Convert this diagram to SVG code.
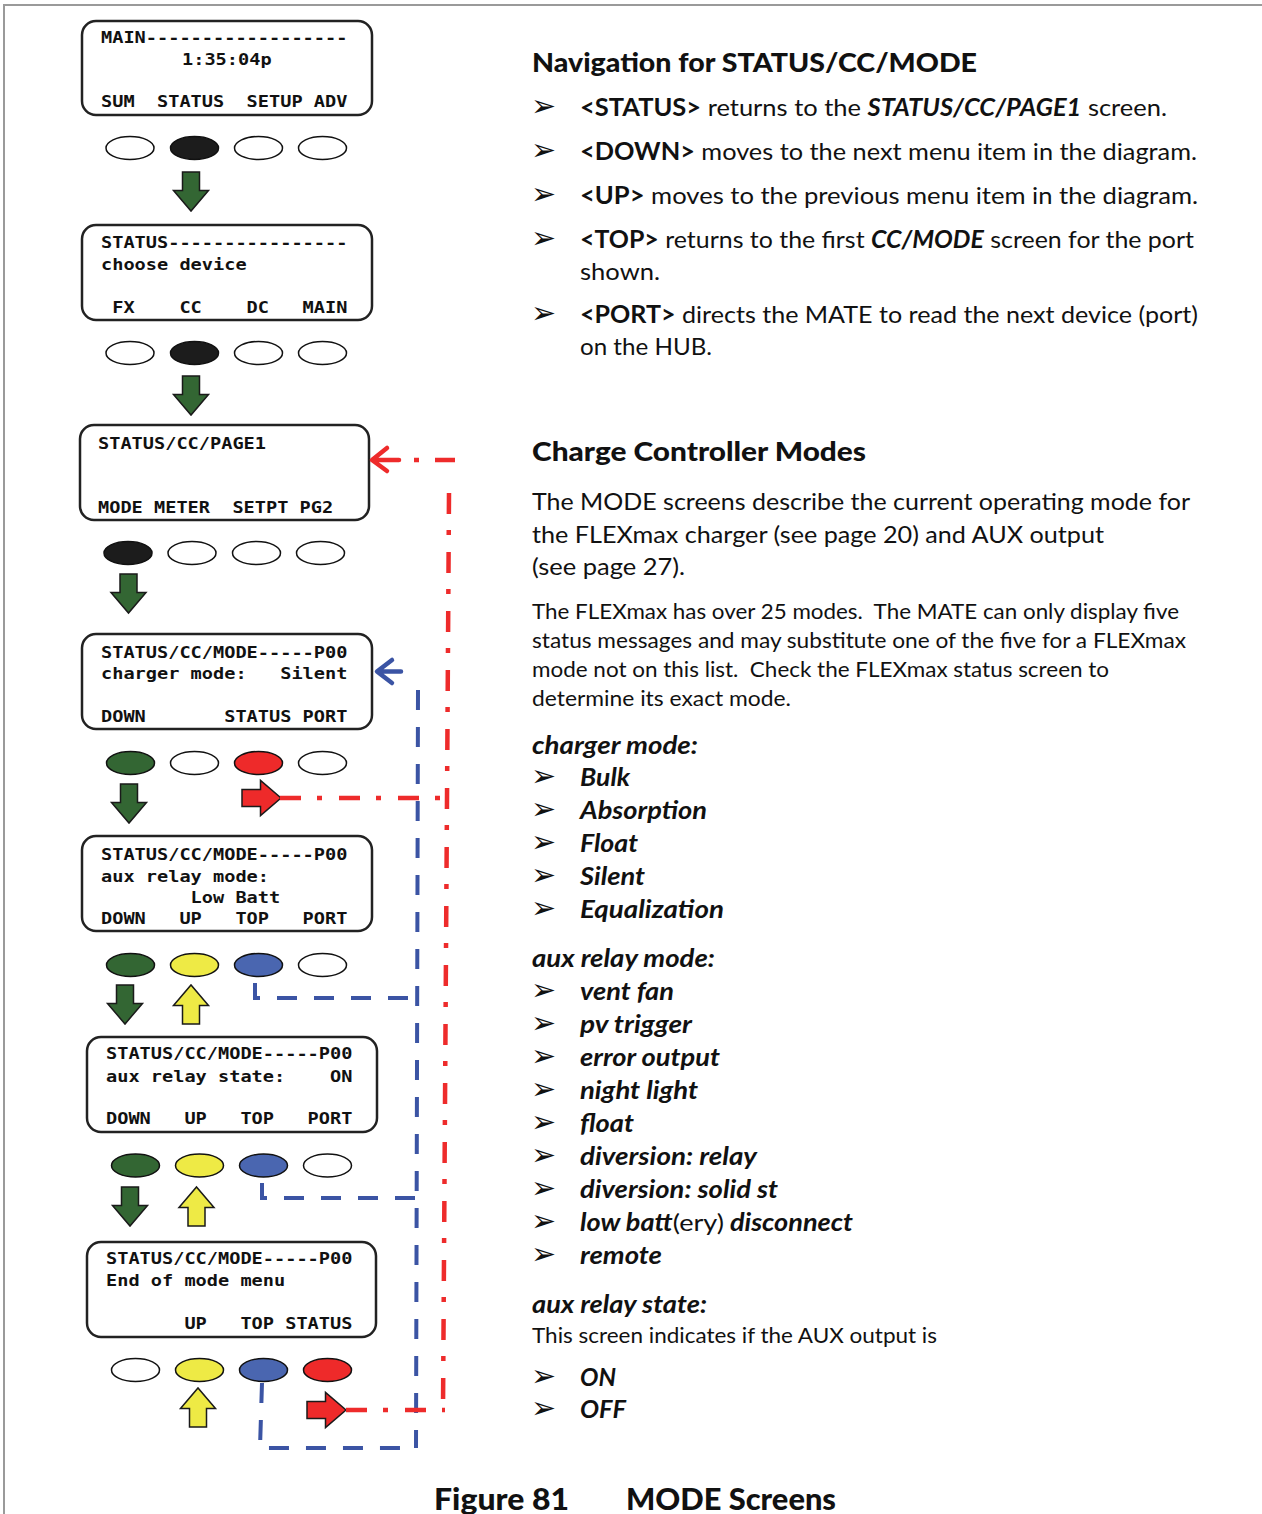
<svg xmlns="http://www.w3.org/2000/svg" xmlns:xlink="http://www.w3.org/1999/xlink" width="1262" height="1514" viewBox="0 0 1262 1514">
<style>
.lcd{font-family:"DejaVu Sans Mono","Liberation Mono",monospace;font-size:16.5px;font-weight:bold;fill:#111;white-space:pre}
.scr{fill:#fff;stroke:#222;stroke-width:2.5}
.btn{stroke:#111;stroke-width:1.5}
.w{fill:#fff}.k{fill:#1c1c1c}.g{fill:#336633}.y{fill:#eeea45}.b{fill:#4a66b0}.r{fill:#ee2a2a}
.arr{stroke:#1a1a1a;stroke-width:1.5}
.bl{fill:none;stroke:#3b54a4;stroke-width:4;stroke-dasharray:20 17}
.bls{fill:none;stroke:#3b54a4;stroke-width:4.5;stroke-linecap:round;stroke-linejoin:round}
.rd{fill:none;stroke:#ee2b2b;stroke-width:4.5;stroke-dasharray:21 16 5 17}
.rds{fill:none;stroke:#ee2b2b;stroke-width:4.5;stroke-linecap:round;stroke-linejoin:round}
.t{font-family:Lato,"Open Sans",sans-serif;fill:#111}
.h{font-size:27px;font-weight:900}
.p{font-size:24px}
.s{font-size:21px}
.bi{font-weight:bold;font-style:italic}
.bo{font-weight:bold}
.rg{font-weight:normal;font-style:normal}
.bu{font-family:"DejaVu Sans",sans-serif;font-size:30px;fill:#111}
.cap{font-family:Lato,"Open Sans",sans-serif;font-size:30px;font-weight:900;fill:#111}
</style>
<defs>
<path id="ad" d="M-8.5,0H8.5V18.5H17.5L0,39L-17.5,18.5H-8.5Z"/>
</defs>
<rect width="1262" height="1514" fill="#fff"/>
<path d="M4,1514V5H1262" fill="none" stroke="#9a9a9a" stroke-width="2"/>

<g id="screen-main">
<rect class="scr" x="82" y="21" width="290" height="94" rx="14"/>
<text class="lcd" xml:space="preserve" x="101" y="43" textLength="246.4" lengthAdjust="spacingAndGlyphs">MAIN------------------</text>
<text class="lcd" xml:space="preserve" x="182" y="65" textLength="89.6" lengthAdjust="spacingAndGlyphs">1:35:04p</text>
<text class="lcd" xml:space="preserve" x="101" y="107" textLength="246.4" lengthAdjust="spacingAndGlyphs">SUM  STATUS  SETUP ADV</text>
<ellipse class="btn w" cx="130" cy="148" rx="24" ry="11.5"/>
<ellipse class="btn k" cx="194.5" cy="148" rx="24" ry="11.5"/>
<ellipse class="btn w" cx="258.5" cy="148" rx="24" ry="11.5"/>
<ellipse class="btn w" cx="322.5" cy="148" rx="24" ry="11.5"/>
<use href="#ad" class="arr g" transform="translate(191,172)"/>
</g>

<g id="screen-status">
<rect class="scr" x="82" y="225" width="290" height="95" rx="14"/>
<text class="lcd" xml:space="preserve" x="101" y="248" textLength="246.4" lengthAdjust="spacingAndGlyphs">STATUS----------------</text>
<text class="lcd" xml:space="preserve" x="101" y="270" textLength="145.6" lengthAdjust="spacingAndGlyphs">choose device</text>
<text class="lcd" xml:space="preserve" x="101" y="313" textLength="246.4" lengthAdjust="spacingAndGlyphs"> FX    CC    DC   MAIN</text>
<ellipse class="btn w" cx="130" cy="353" rx="24" ry="11.5"/>
<ellipse class="btn k" cx="194.5" cy="353" rx="24" ry="11.5"/>
<ellipse class="btn w" cx="258.5" cy="353" rx="24" ry="11.5"/>
<ellipse class="btn w" cx="322.5" cy="353" rx="24" ry="11.5"/>
<use href="#ad" class="arr g" transform="translate(191,376)"/>
</g>

<g id="screen-page1">
<rect class="scr" x="80" y="425" width="289" height="95" rx="14"/>
<text class="lcd" xml:space="preserve" x="98" y="449" textLength="168" lengthAdjust="spacingAndGlyphs">STATUS/CC/PAGE1</text>
<text class="lcd" xml:space="preserve" x="98" y="513" textLength="235.2" lengthAdjust="spacingAndGlyphs">MODE METER  SETPT PG2</text>
<ellipse class="btn k" cx="128" cy="553" rx="24" ry="11.5"/>
<ellipse class="btn w" cx="192" cy="553" rx="24" ry="11.5"/>
<ellipse class="btn w" cx="256.5" cy="553" rx="24" ry="11.5"/>
<ellipse class="btn w" cx="320.5" cy="553" rx="24" ry="11.5"/>
<use href="#ad" class="arr g" transform="translate(128.5,574)"/>
</g>

<g id="screen-charger-mode">
<rect class="scr" x="82" y="634" width="290" height="95" rx="14"/>
<text class="lcd" xml:space="preserve" x="101" y="658" textLength="246.4" lengthAdjust="spacingAndGlyphs">STATUS/CC/MODE-----P00</text>
<text class="lcd" xml:space="preserve" x="101" y="679" textLength="246.4" lengthAdjust="spacingAndGlyphs">charger mode:   Silent</text>
<text class="lcd" xml:space="preserve" x="101" y="722" textLength="246.4" lengthAdjust="spacingAndGlyphs">DOWN       STATUS PORT</text>
<ellipse class="btn g" cx="130.5" cy="763" rx="24" ry="11.5"/>
<ellipse class="btn w" cx="194.5" cy="763" rx="24" ry="11.5"/>
<ellipse class="btn r" cx="258.5" cy="763" rx="24" ry="11.5"/>
<ellipse class="btn w" cx="322.5" cy="763" rx="24" ry="11.5"/>
<use href="#ad" class="arr g" transform="translate(129,784)"/>
<use href="#ad" class="arr r" transform="translate(242,798) rotate(-90)"/>
</g>

<g id="screen-aux-relay-mode">
<rect class="scr" x="82" y="836" width="290" height="95" rx="14"/>
<text class="lcd" xml:space="preserve" x="101" y="860" textLength="246.4" lengthAdjust="spacingAndGlyphs">STATUS/CC/MODE-----P00</text>
<text class="lcd" xml:space="preserve" x="101" y="882" textLength="168" lengthAdjust="spacingAndGlyphs">aux relay mode:</text>
<text class="lcd" xml:space="preserve" x="101" y="903" textLength="179.2" lengthAdjust="spacingAndGlyphs">        Low Batt</text>
<text class="lcd" xml:space="preserve" x="101" y="924" textLength="246.4" lengthAdjust="spacingAndGlyphs">DOWN   UP   TOP   PORT</text>
<ellipse class="btn g" cx="130.5" cy="965" rx="24" ry="11.5"/>
<ellipse class="btn y" cx="194.5" cy="965" rx="24" ry="11.5"/>
<ellipse class="btn b" cx="258.5" cy="965" rx="24" ry="11.5"/>
<ellipse class="btn w" cx="322.5" cy="965" rx="24" ry="11.5"/>
<use href="#ad" class="arr g" transform="translate(125,985)"/>
<use href="#ad" class="arr y" transform="translate(191,1024) rotate(180)"/>
</g>

<g id="screen-aux-relay-state">
<rect class="scr" x="87" y="1037" width="290" height="95" rx="14"/>
<text class="lcd" xml:space="preserve" x="106" y="1059" textLength="246.4" lengthAdjust="spacingAndGlyphs">STATUS/CC/MODE-----P00</text>
<text class="lcd" xml:space="preserve" x="106" y="1082" textLength="246.4" lengthAdjust="spacingAndGlyphs">aux relay state:    ON</text>
<text class="lcd" xml:space="preserve" x="106" y="1124" textLength="246.4" lengthAdjust="spacingAndGlyphs">DOWN   UP   TOP   PORT</text>
<ellipse class="btn g" cx="135.5" cy="1165.5" rx="24" ry="11.5"/>
<ellipse class="btn y" cx="199.5" cy="1165.5" rx="24" ry="11.5"/>
<ellipse class="btn b" cx="263.5" cy="1165.5" rx="24" ry="11.5"/>
<ellipse class="btn w" cx="327.5" cy="1165.5" rx="24" ry="11.5"/>
<use href="#ad" class="arr g" transform="translate(130,1187)"/>
<use href="#ad" class="arr y" transform="translate(196.5,1226) rotate(180)"/>
</g>

<g id="screen-end">
<rect class="scr" x="87" y="1242" width="289" height="95" rx="14"/>
<text class="lcd" xml:space="preserve" x="106" y="1264" textLength="246.4" lengthAdjust="spacingAndGlyphs">STATUS/CC/MODE-----P00</text>
<text class="lcd" xml:space="preserve" x="106" y="1286" textLength="179.2" lengthAdjust="spacingAndGlyphs">End of mode menu</text>
<text class="lcd" xml:space="preserve" x="106" y="1329" textLength="246.4" lengthAdjust="spacingAndGlyphs">       UP   TOP STATUS</text>
<ellipse class="btn w" cx="135.5" cy="1370" rx="24" ry="11.5"/>
<ellipse class="btn y" cx="199.5" cy="1370" rx="24" ry="11.5"/>
<ellipse class="btn b" cx="263.5" cy="1370" rx="24" ry="11.5"/>
<ellipse class="btn r" cx="327.5" cy="1370" rx="24" ry="11.5"/>
<use href="#ad" class="arr y" transform="translate(198,1427) rotate(180)"/>
<use href="#ad" class="arr r" transform="translate(307,1410) rotate(-90)"/>
</g>

<g id="connectors">
<path class="bls" d="M392,660L377,671.5L392,683M378,671.5H401"/>
<path class="bl" d="M418,690L416,1448"/>
<path class="bl" d="M255,983V998H418"/>
<path class="bl" d="M262,1183V1198H418"/>
<path class="bl" d="M262,1383L260,1448H416"/>
<path class="rds" d="M387,448L372,460L387,471M373,460H399"/>
<path d="M414,460H419M435,460H455" fill="none" stroke="#ee2b2b" stroke-width="4.5"/>
<path class="rd" d="M449,493L443,1410"/>
<path class="rd" d="M280,798H441"/>
<path class="rd" d="M346,1410H445"/>
</g>

<g id="nav-text">
<text class="t h" x="532" y="72" textLength="445" lengthAdjust="spacingAndGlyphs">Navigation for STATUS/CC/MODE</text>
<text class="bu" x="531" y="116">➢</text>
<text class="t p" x="580" y="116" textLength="587" lengthAdjust="spacingAndGlyphs"><tspan class="bo">&lt;STATUS&gt;</tspan> returns to the <tspan class="bi">STATUS/CC/PAGE1</tspan> screen.</text>
<text class="bu" x="531" y="160">➢</text>
<text class="t p" x="580" y="160" textLength="617" lengthAdjust="spacingAndGlyphs"><tspan class="bo">&lt;DOWN&gt;</tspan> moves to the next menu item in the diagram.</text>
<text class="bu" x="531" y="204">➢</text>
<text class="t p" x="580" y="204" textLength="618" lengthAdjust="spacingAndGlyphs"><tspan class="bo">&lt;UP&gt;</tspan> moves to the previous menu item in the diagram.</text>
<text class="bu" x="531" y="248">➢</text>
<text class="t p" x="580" y="248" textLength="614" lengthAdjust="spacingAndGlyphs"><tspan class="bo">&lt;TOP&gt;</tspan> returns to the first <tspan class="bi">CC/MODE</tspan> screen for the port</text>
<text class="t p" x="580" y="280" textLength="80" lengthAdjust="spacingAndGlyphs">shown.</text>
<text class="bu" x="531" y="323">➢</text>
<text class="t p" x="580" y="323" textLength="618" lengthAdjust="spacingAndGlyphs"><tspan class="bo">&lt;PORT&gt;</tspan> directs the MATE to read the next device (port)</text>
<text class="t p" x="580" y="355" textLength="132" lengthAdjust="spacingAndGlyphs">on the HUB.</text>
</g>

<g id="modes-text">
<text class="t h" x="532" y="461" textLength="334" lengthAdjust="spacingAndGlyphs">Charge Controller Modes</text>
<text class="t p" x="532" y="510" textLength="658" lengthAdjust="spacingAndGlyphs">The MODE screens describe the current operating mode for</text>
<text class="t p" x="532" y="543" textLength="572" lengthAdjust="spacingAndGlyphs">the FLEXmax charger (see page 20) and AUX output</text>
<text class="t p" x="532" y="575" textLength="153" lengthAdjust="spacingAndGlyphs">(see page 27).</text>
<text class="t s" x="532" y="619" textLength="647" lengthAdjust="spacingAndGlyphs" xml:space="preserve">The FLEXmax has over 25 modes.  The MATE can only display five</text>
<text class="t s" x="532" y="648" textLength="654" lengthAdjust="spacingAndGlyphs">status messages and may substitute one of the five for a FLEXmax</text>
<text class="t s" x="532" y="677" textLength="577" lengthAdjust="spacingAndGlyphs" xml:space="preserve">mode not on this list.  Check the FLEXmax status screen to</text>
<text class="t s" x="532" y="706" textLength="259" lengthAdjust="spacingAndGlyphs">determine its exact mode.</text>

<text class="t p bi" x="532" y="754" textLength="166" lengthAdjust="spacingAndGlyphs">charger mode:</text>
<text class="bu" x="531" y="786">➢</text><text class="t p bi" x="580" y="786" textLength="50" lengthAdjust="spacingAndGlyphs">Bulk</text>
<text class="bu" x="531" y="819">➢</text><text class="t p bi" x="580" y="819" textLength="127" lengthAdjust="spacingAndGlyphs">Absorption</text>
<text class="bu" x="531" y="852">➢</text><text class="t p bi" x="580" y="852" textLength="58" lengthAdjust="spacingAndGlyphs">Float</text>
<text class="bu" x="531" y="885">➢</text><text class="t p bi" x="580" y="885" textLength="65" lengthAdjust="spacingAndGlyphs">Silent</text>
<text class="bu" x="531" y="918">➢</text><text class="t p bi" x="580" y="918" textLength="144" lengthAdjust="spacingAndGlyphs">Equalization</text>

<text class="t p bi" x="532" y="967" textLength="183" lengthAdjust="spacingAndGlyphs">aux relay mode:</text>
<text class="bu" x="531" y="1000">➢</text><text class="t p bi" x="580" y="1000" textLength="94" lengthAdjust="spacingAndGlyphs">vent fan</text>
<text class="bu" x="531" y="1033">➢</text><text class="t p bi" x="580" y="1033" textLength="112" lengthAdjust="spacingAndGlyphs">pv trigger</text>
<text class="bu" x="531" y="1066">➢</text><text class="t p bi" x="580" y="1066" textLength="140" lengthAdjust="spacingAndGlyphs">error output</text>
<text class="bu" x="531" y="1099">➢</text><text class="t p bi" x="580" y="1099" textLength="118" lengthAdjust="spacingAndGlyphs">night light</text>
<text class="bu" x="531" y="1132">➢</text><text class="t p bi" x="580" y="1132" textLength="54" lengthAdjust="spacingAndGlyphs">float</text>
<text class="bu" x="531" y="1165">➢</text><text class="t p bi" x="580" y="1165" textLength="177" lengthAdjust="spacingAndGlyphs">diversion: relay</text>
<text class="bu" x="531" y="1198">➢</text><text class="t p bi" x="580" y="1198" textLength="198" lengthAdjust="spacingAndGlyphs">diversion: solid st</text>
<text class="bu" x="531" y="1231">➢</text><text class="t p bi" x="580" y="1231" textLength="273" lengthAdjust="spacingAndGlyphs">low batt<tspan class="rg">(ery)</tspan> disconnect</text>
<text class="bu" x="531" y="1264">➢</text><text class="t p bi" x="580" y="1264" textLength="82" lengthAdjust="spacingAndGlyphs">remote</text>

<text class="t p bi" x="532" y="1313" textLength="175" lengthAdjust="spacingAndGlyphs">aux relay state:</text>
<text class="t s" x="532" y="1343" textLength="405" lengthAdjust="spacingAndGlyphs">This screen indicates if the AUX output is</text>
<text class="bu" x="531" y="1386">➢</text><text class="t p bi" x="580" y="1386" textLength="36" lengthAdjust="spacingAndGlyphs">ON</text>
<text class="bu" x="531" y="1418">➢</text><text class="t p bi" x="580" y="1418" textLength="46" lengthAdjust="spacingAndGlyphs">OFF</text>
</g>

<g id="caption">
<text class="cap" x="434" y="1510" textLength="135" lengthAdjust="spacingAndGlyphs">Figure 81</text>
<text class="cap" x="626" y="1510" textLength="210" lengthAdjust="spacingAndGlyphs">MODE Screens</text>
</g>
</svg>
